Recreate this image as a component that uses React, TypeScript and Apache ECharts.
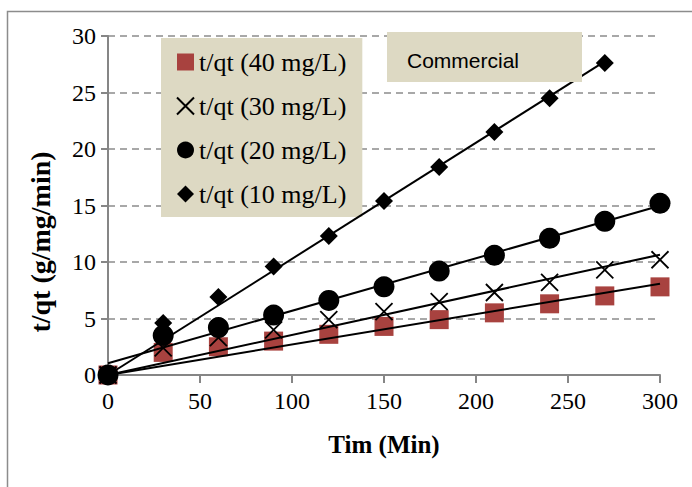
import React, { useEffect, useRef } from "react";
import * as echarts from "echarts";

// ---- data ----
const timeMin = [0, 30, 60, 90, 120, 150, 180, 210, 240, 270, 300];
const q40 = [0, 2.0, 2.5, 3.0, 3.6, 4.3, 4.9, 5.5, 6.3, 7.0, 7.8];
const q30 = [0, 2.4, 3.3, 4.0, 4.9, 5.6, 6.5, 7.3, 8.2, 9.3, 10.2];
const q20 = [0, 3.5, 4.2, 5.3, 6.6, 7.8, 9.2, 10.6, 12.1, 13.6, 15.2];
const q10 = [0, 4.6, 6.9, 9.6, 12.3, 15.4, 18.4, 21.5, 24.5, 27.6];
const seriesNames = ["t/qt (40 mg/L)", "t/qt (30 mg/L)", "t/qt (20 mg/L)", "t/qt (10 mg/L)"];
const trendThroughOrigin = [true, true, false, true];
const xAxisTitle = "Tim (Min)";
const yAxisTitle = "t/qt (g/mg/min)";
const boxLabel = "Commercial";

const seriesValues = [q40, q30, q20, q10];

function fitLine(xs: number[], ys: number[], origin: boolean) {
  const n = ys.length;
  const x = xs.slice(0, n);
  if (origin) {
    let sxy = 0, sxx = 0;
    for (let i = 0; i < n; i++) { sxy += x[i] * ys[i]; sxx += x[i] * x[i]; }
    return { m: sxy / sxx, b: 0, x0: x[0], x1: x[n - 1] };
  }
  const mx = x.reduce((a, v) => a + v, 0) / n;
  const my = ys.reduce((a, v) => a + v, 0) / n;
  let sxy = 0, sxx = 0;
  for (let i = 0; i < n; i++) { sxy += (x[i] - mx) * (ys[i] - my); sxx += (x[i] - mx) ** 2; }
  const m = sxy / sxx;
  return { m, b: my - m * mx, x0: x[0], x1: x[n - 1] };
}

const SERIF = "Liberation Serif";
const SANS = "Liberation Sans";

export default function App() {
  const ref = useRef<HTMLDivElement>(null);
  useEffect(() => {
    if (!ref.current) return;
    const chart = echarts.init(ref.current, undefined, { renderer: "svg" });

    const markerStyles: any[] = [
      { symbol: "rect", symbolSize: 19, itemStyle: { color: "#A8423F", opacity: 1 } },
      {
        symbol: "path://M0,0L10,10M10,0L0,10",
        symbolSize: 17,
        itemStyle: { color: "transparent", borderColor: "#000", borderWidth: 1.8, opacity: 1 },
      },
      { symbol: "circle", symbolSize: 21, itemStyle: { color: "#000", opacity: 1 } },
      { symbol: "diamond", symbolSize: 18, itemStyle: { color: "#000", opacity: 1 } },
    ];

    const scatterSeries = seriesValues.map((vals, i) => ({
      name: seriesNames[i],
      type: "scatter",
      data: vals.map((v, j) => [timeMin[j], v]),
      ...markerStyles[i],
      z: 2 + i,
    }));

    const trendSeries = seriesValues.map((vals, i) => {
      const f = fitLine(timeMin, vals, trendThroughOrigin[i]);
      return {
        name: "trend " + seriesNames[i],
        type: "line",
        data: [
          [f.x0, f.b + f.m * f.x0],
          [f.x1, f.b + f.m * f.x1],
        ],
        showSymbol: false,
        symbol: "none",
        lineStyle: { color: "#000", width: 2 },
        z: 10,
        silent: true,
      };
    });

    const richNum = { n: { color: "#000", fontFamily: "serif", fontSize: 24 } };

    chart.setOption({
      animation: false,
      textStyle: { fontFamily: "serif" },
      grid: { left: 108, right: 32, top: 36, bottom: 112, containLabel: false },
      xAxis: {
        type: "value",
        min: 0,
        max: 300,
        interval: 50,
        axisLine: { show: true, lineStyle: { color: "#868686", width: 2 } },
        axisTick: { show: true, length: 8, lineStyle: { color: "#868686", width: 2 } },
        axisLabel: { margin: 14, formatter: "{n|{value}}", rich: richNum, color: "#000", fontSize: 24, fontFamily: "serif" },
        splitLine: { show: false },
      },
      yAxis: {
        type: "value",
        min: 0,
        max: 30,
        interval: 5,
        axisLine: { show: true, onZero: false, lineStyle: { color: "#868686", width: 2 } },
        axisTick: { show: true, length: 7, lineStyle: { color: "#868686", width: 2 } },
        axisLabel: { margin: 12, color: "#000", fontSize: 24, fontFamily: "serif" },
        splitLine: { show: true, lineStyle: { color: "#8C8C8C", width: 1.5, type: [7, 5] } },
      },
      legend: {
        data: seriesNames,
        orient: "vertical",
        left: 161,
        top: 38,
        backgroundColor: "#DDD9C3",
        padding: [11, 16, 10, 15],
        itemGap: 18,
        itemWidth: 17,
        itemHeight: 17,
        textStyle: { color: "#000", fontFamily: "serif", fontSize: 26 },
        selectedMode: false,
      },
      graphic: [
        {
          type: "rect",
          shape: { x: 7.5, y: 11.5, width: 700, height: 500 },
          style: { fill: "none", stroke: "#8C8C8C", lineWidth: 1.5 },
          silent: true,
          z: -10,
        },
        {
          type: "rect",
          shape: { x: 387, y: 32, width: 195, height: 50 },
          style: { fill: "#DDD9C3" },
          z: 20,
        },
        {
          type: "text",
          x: 407,
          y: 60,
          style: { text: boxLabel, font: `21px ${SANS}`, fill: "#000", verticalAlign: "middle" },
          z: 21,
        },
        {
          type: "text",
          x: 384,
          y: 444,
          style: {
            text: xAxisTitle,
            font: `bold 25px ${SERIF}`,
            fill: "#000",
            align: "center",
            verticalAlign: "middle",
          },
        },
        {
          type: "text",
          x: 40,
          y: 242,
          rotation: Math.PI / 2,
          style: {
            text: yAxisTitle,
            font: `bold 28px ${SERIF}`,
            fill: "#000",
            align: "center",
            verticalAlign: "middle",
          },
        },
      ],
      series: [...scatterSeries, ...trendSeries],
    });

    return () => chart.dispose();
  }, []);

  return (
    <div
      ref={ref}
      style={{ position: "fixed", left: 0, top: 0, width: 692, height: 487, background: "#fff" }}
    />
  );
}
